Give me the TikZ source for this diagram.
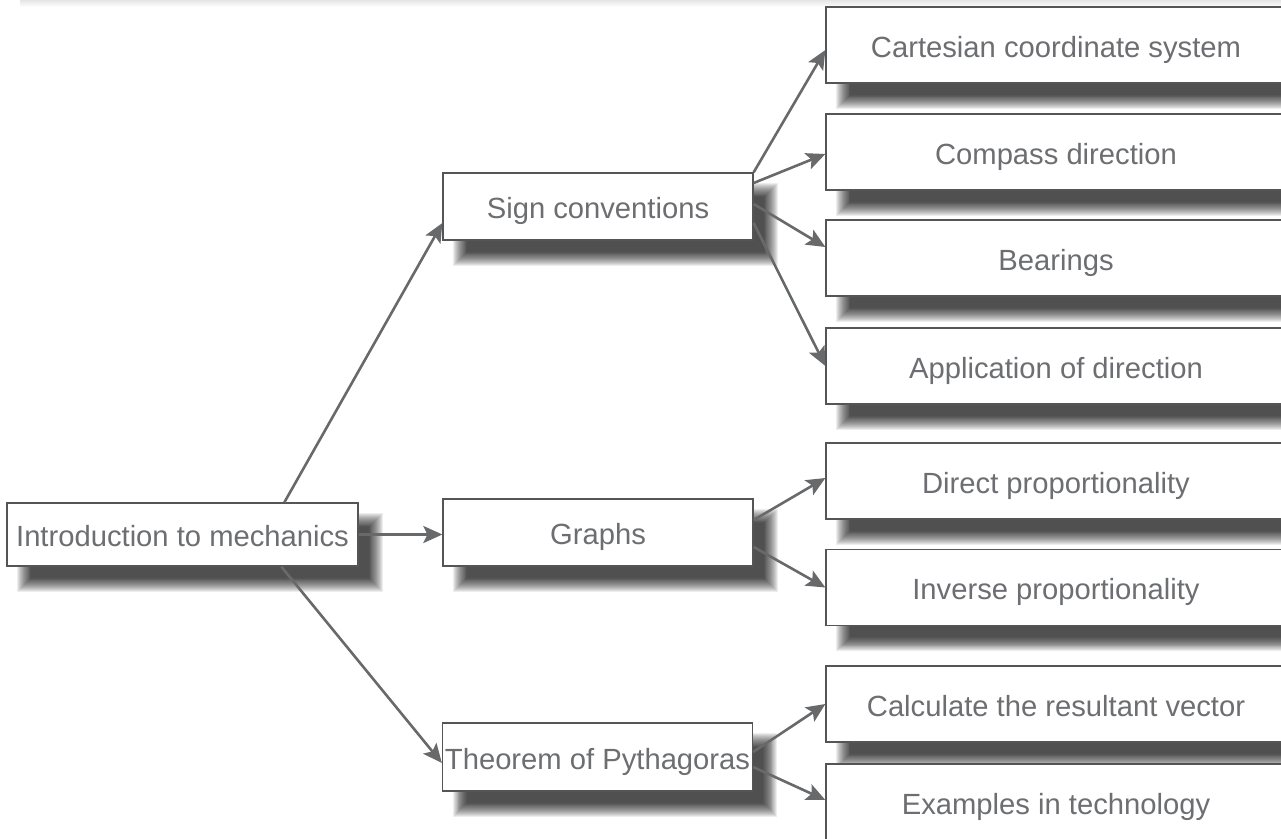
\documentclass[tikz,border=0pt]{standalone}
\usepackage{fontspec}
\setmainfont{Liberation Sans}
\usetikzlibrary{arrows.meta,calc}
\definecolor{txt}{HTML}{6D6E71}
\definecolor{edge}{HTML}{555555}
\definecolor{connc}{HTML}{68696B}
\pgfdeclarelayer{bg}
\pgfsetlayers{bg,main}
\begin{document}
\begin{tikzpicture}[x=1pt,y=-1pt,
  box/.style={draw=edge,line width=1.3pt,fill=white,text=txt,inner sep=0pt,
    text height=24pt,text depth=0pt,font=\fontsize{29.2}{35}\selectfont},
  mid/.style={box,minimum width=310pt,minimum height=67pt},
  leaf/.style={box,minimum width=460pt,minimum height=76pt},
  conn/.style={draw=connc,line width=2.6pt,-{Stealth[length=19pt,width=17pt,inset=4pt,fill=connc]}}]
\useasboundingbox (0,0) rectangle (1281,838);
\shade[top color=black!10,bottom color=white] (20,0) rectangle (1281,7);
% nodes
\node[box,minimum width=351pt,minimum height=63pt] (intro) at (182.5,534.5) {Introduction to mechanics};
\node[mid] (sign) at (598,206.5) {Sign conventions};
\node[mid] (graphs) at (598,532.5) {Graphs};
\node[mid,minimum height=68pt] (pyth) at (597.5,757) {Theorem of Pythagoras};
\node[leaf] (cart) at (1056,45) {Cartesian coordinate system};
\node[leaf] (compass) at (1056,152) {Compass direction};
\node[leaf] (bear) at (1056,258) {Bearings};
\node[leaf] (appl) at (1056,366) {Application of direction};
\node[leaf] (direct) at (1056,481) {Direct proportionality};
\node[leaf] (inverse) at (1056,587.5) {Inverse proportionality};
\node[leaf] (calc) at (1056,704) {Calculate the resultant vector};
\node[leaf] (examples) at (1056,802) {Examples in technology};
% shadows
\begin{pgfonlayer}{bg}
\clip (0,0) rectangle (1281,838);
\foreach \n in {intro,sign,graphs,pyth,cart,compass,bear,appl,direct,inverse,calc,examples}{
  \foreach \i in {0,...,15}{
    \pgfmathsetmacro\e{-7+\i*0.93}
    \fill[black,fill opacity=0.07] ($(\n.north west)+({18-\e},{18-\e})$) rectangle ($(\n.south east)+({17+\e},{18+\e})$);
  }
}
\end{pgfonlayer}
% connectors
\draw[conn] ($(intro.north west)+(278,0)$) -- ($(sign.west)+(0,16.5)$);
\draw[conn] (intro.east) -- (intro.east -| graphs.west);
\draw[conn] ($(intro.south west)+(275,0)$) -- ($(pyth.west)+(0,6)$);
\draw[conn] (sign.north east) -- ($(cart.west)+(0,5)$);
\draw[conn] ($(sign.east)+(0,-23.5)$) -- ($(compass.west)+(0,2)$);
\draw[conn] ($(sign.east)+(0,-2.5)$) -- ($(bear.west)+(0,-11)$);
\draw[conn] ($(sign.east)+(0,16.5)$) -- (appl.west);
\draw[conn] ($(graphs.east)+(0,-12.5)$) -- ($(direct.west)+(0,-3)$);
\draw[conn] ($(graphs.east)+(0,14.5)$) -- (inverse.west);
\draw[conn] ($(pyth.east)+(0,-5)$) -- (calc.west);
\draw[conn] ($(pyth.east)+(0,10)$) -- ($(examples.west)+(0,-2)$);
\end{tikzpicture}
\end{document}
